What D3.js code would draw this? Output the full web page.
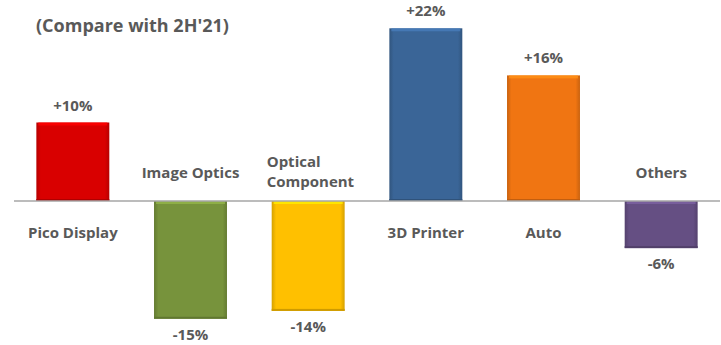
<!DOCTYPE html>
<html><head><meta charset="utf-8">
<script src="https://cdn.jsdelivr.net/npm/d3@7"></script>
<style>body{margin:0;background:#fff}svg{display:block}</style>
</head><body>
<script>
const categories = ["Pico Display","Image Optics","Optical Component","3D Printer","Auto","Others"];
const values = [10,-15,-14,22,16,-6];
const valueLabels = ["+10%","-15%","-14%","+22%","+16%","-6%"];
const colors = ["#d90000","#77933c","#ffc000","#3a6597","#f07512","#654f83"];
const title = "(Compare with 2H'21)";

const W = 721, H = 345;
const svg = d3.select("body").append("svg").attr("width",W).attr("height",H);
const font = "'Open Sans', Lato, sans-serif";
const txt = "#595959";

const x = d3.scaleBand().domain(categories).range([14,720]).paddingInner(0.38).paddingOuter(0.19);
const y = d3.scaleLinear().domain([-18,25]).range([201+18*7.85, 201-25*7.85]);

const defs = svg.append("defs");
colors.forEach((c,i)=>{
  const g = defs.append("linearGradient").attr("id","g"+i).attr("x1",0).attr("x2",1).attr("y1",0).attr("y2",0);
  const dk = d3.color(c).darker(0.5);
  g.append("stop").attr("offset","0%").attr("stop-color",dk);
  g.append("stop").attr("offset","6%").attr("stop-color",c);
  g.append("stop").attr("offset","94%").attr("stop-color",c);
  g.append("stop").attr("offset","100%").attr("stop-color",dk);
});

svg.append("text").attr("x",36).attr("y",32).attr("font-family",font).attr("font-weight","bold")
  .attr("font-size",18).attr("fill",txt).text(title);

const bars = svg.selectAll("g.bar").data(categories).join("g").attr("class","bar");
bars.append("rect")
  .attr("x",d=>x(d)).attr("width",x.bandwidth())
  .attr("y",(d,i)=>y(Math.max(0,values[i])))
  .attr("height",(d,i)=>Math.abs(y(values[i])-y(0)))
  .attr("fill",(d,i)=>`url(#g${i})`);
bars.append("rect")
  .attr("x",d=>x(d)+2).attr("width",x.bandwidth()-4)
  .attr("y",(d,i)=>y(Math.max(0,values[i])))
  .attr("height",3)
  .attr("fill",(d,i)=>d3.color(colors[i]).brighter(0.6)).attr("opacity",0.8);
bars.append("rect")
  .attr("x",d=>x(d)).attr("width",x.bandwidth())
  .attr("y",(d,i)=>y(Math.min(0,values[i]))-2)
  .attr("height",2)
  .attr("fill",(d,i)=>d3.color(colors[i]).darker(0.6));

svg.append("line").attr("x1",14).attr("x2",720).attr("y1",y(0)).attr("y2",y(0))
  .attr("stroke","#a6a6a6").attr("stroke-width",1.5);

svg.selectAll("text.val").data(categories).join("text").attr("class","val")
  .attr("x",d=>x(d)+x.bandwidth()/2)
  .attr("y",(d,i)=>values[i]>=0 ? y(values[i])-12 : y(values[i])+21)
  .attr("text-anchor","middle").attr("font-family",font).attr("font-weight","bold")
  .attr("font-size",15).attr("fill",txt).text((d,i)=>valueLabels[i]);

const catLines = {"Optical Component":["Optical","Component"]};
svg.selectAll("text.cat").data(categories).join("text").attr("class","cat")
  .attr("font-family",font).attr("font-weight","bold").attr("font-size",15).attr("fill",txt)
  .each(function(d,i){
    const lines = catLines[d] || [d];
    const cx = x(d)+x.bandwidth()/2;
    const t = d3.select(this);
    if(values[i]>=0){
      t.attr("text-anchor","middle");
      lines.forEach((l,k)=>t.append("tspan").attr("x",cx).attr("y",y(0)+37+k*20).text(l));
    } else {
      const n = lines.length;
      if(n>1){
        t.attr("text-anchor","start");
        lines.forEach((l,k)=>t.append("tspan").attr("x",x(d)-5).attr("y",y(0)-34+(k-(n-1))*20+20).text(l));
      } else {
        t.attr("text-anchor","middle");
        t.append("tspan").attr("x",cx).attr("y",y(0)-23).text(lines[0]);
      }
    }
  });
</script>
</body></html>
